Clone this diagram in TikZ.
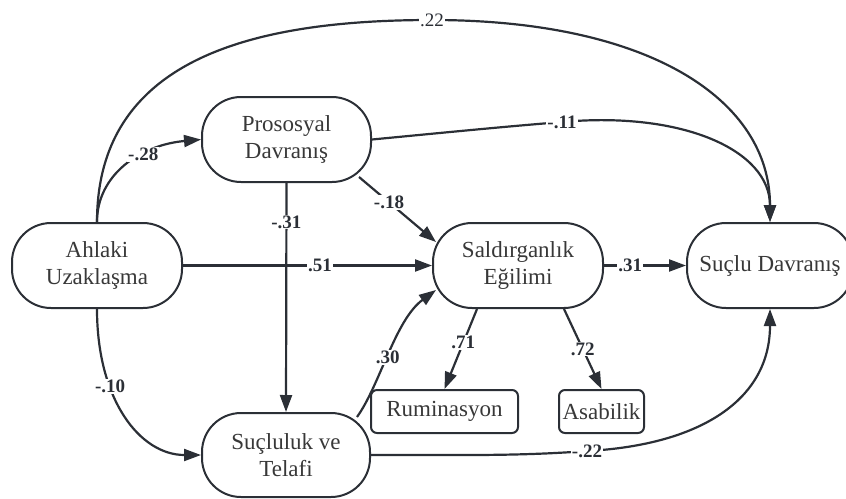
\documentclass[tikz,border=0pt]{standalone}
\usepackage{fontspec}
\setmainfont{Liberation Serif}
\usetikzlibrary{arrows.meta,calc}
\definecolor{ln}{HTML}{2B2F36}
\definecolor{tx}{HTML}{383838}
\begin{document}
\begin{tikzpicture}[x=1pt,y=-1pt,
  var/.style={draw=ln, line width=2pt, rounded corners=39pt, minimum width=170pt, minimum height=85pt, align=center, text=tx, font=\fontsize{23}{27}\selectfont, inner sep=0pt},
  ind/.style={draw=ln, line width=2pt, rounded corners=6pt, minimum height=43pt, text=tx, font=\fontsize{23}{27}\selectfont, inner sep=0pt},
  arr/.style={draw=ln, line width=2.2pt, -{Triangle[length=17pt,width=12pt]}},
  lab/.style={fill=white, font=\bfseries\fontsize{19}{21}\selectfont, text=ln, inner sep=1pt},
  labn/.style={fill=white, font=\fontsize{19}{21}\selectfont, text=ln, inner sep=1pt}
]
\useasboundingbox (0,0) rectangle (846,498);
\node[var] (A) at (97,265.5) {Ahlaki\\Uzaklaşma};
\node[var, minimum width=169pt] (P) at (286.5,139.5) {Prososyal\\Davranış};
\node[var] (Sg) at (518,265.5) {Saldırganlık\\Eğilimi};
\node[var, minimum width=166pt] (SD) at (770,265.5) {Suçlu Davranış};
\node[var, minimum width=168pt, minimum height=84pt] (Su) at (286,455) {Suçluluk ve\\Telafi};
\node[ind, minimum width=147pt] (Ru) at (444.5,411.5) {Ruminasyon};
\node[ind, minimum width=85pt] (As) at (601.5,411.5) {Asabilik};

% Ahlaki -> Prososyal
\draw[arr] (A.north) .. controls (97,175) and (140,145) .. node[lab, pos=0.64] {-.28} (P.west);
% Ahlaki -> Suclu Davranis (top)
\draw[arr] (A.north) .. controls (97,60) and (250,20) .. (432,20) node[labn] {.22}
  .. controls (650,20) and (770,100) .. (SD.north);
% Prososyal -> Suclu Davranis
\draw[arr] (P.east) .. controls (440,133) and (500,127) .. (562,122) node[lab] {-.11}
  .. controls (682,111) and (770,150) .. (SD.north);
% Prososyal -> Saldirganlik
\draw[arr] ($(P.south east)+(-13,-6)$) -- node[lab, pos=0.39] {-.18} ($(Sg.west)+(4,-23.5)$);
% Prososyal -> Sucluluk
\draw[arr] (P.south) -- node[lab, pos=0.17] {-.31} (Su.north);
% Ahlaki -> Saldirganlik
\draw[arr] (A.east) -- node[lab, pos=0.55] {.51} (Sg.west);
% Ahlaki -> Sucluluk
\draw[arr] (A.south) .. controls (97,400) and (140,455) .. node[lab, pos=0.33] {-.10} (Su.west);
% Sucluluk -> Saldirganlik
\draw[arr] ($(Su.north east)+(-14,5)$) .. controls (380,385) and (395,320) .. node[lab, pos=0.47] {.30} ($(Sg.west)+(4,24.5)$);
% Saldirganlik -> Suclu Davranis
\draw[arr] (Sg.east) -- node[lab, pos=0.32] {.31} (SD.west);
% Saldirganlik -> indicators
\draw[arr] ($(Sg.south)+(-41,0)$) -- node[lab, pos=0.42] {.71} (Ru.north);
\draw[arr] ($(Sg.south)+(46,0)$) -- node[lab, pos=0.5] {.72} (As.north);
% Sucluluk -> Suclu Davranis (bottom)
\draw[arr] (Su.east) .. controls (470,455) and (520,456) .. (587,451) node[lab] {-.22}
  .. controls (700,445) and (770,400) .. (SD.south);
\end{tikzpicture}
\end{document}
